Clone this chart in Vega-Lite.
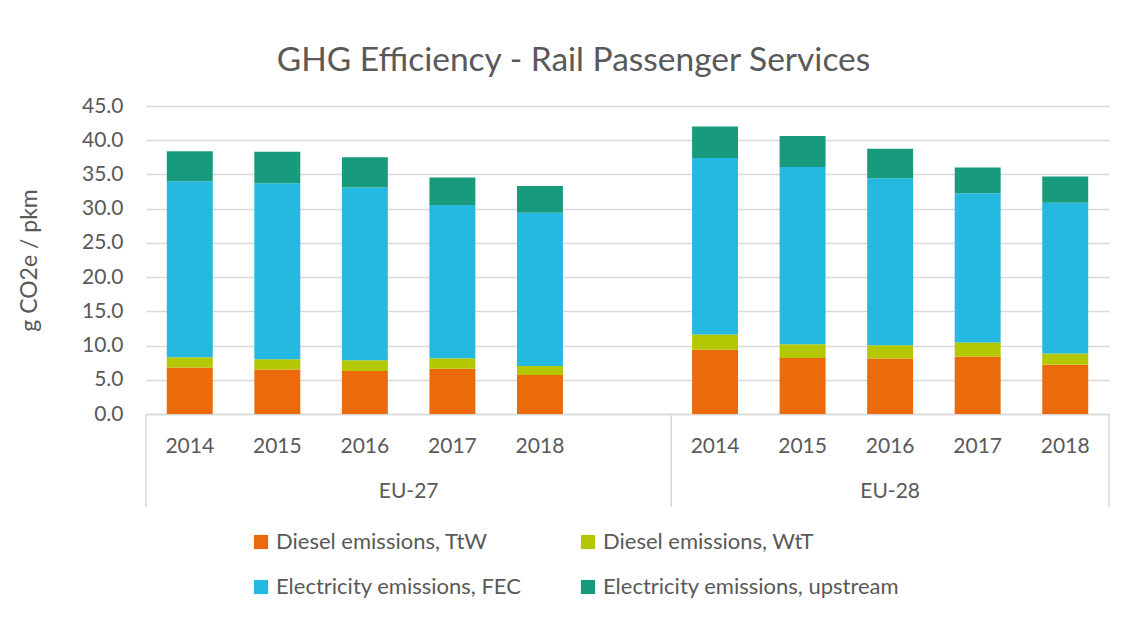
{
  "$schema": "https://vega.github.io/schema/vega-lite/v6.json",
  "width": 963,
  "height": 308,
  "autosize": {"type": "none"},
  "padding": {"left": 146, "top": 106, "right": 22, "bottom": 203},
  "background": "white",
  "config": {
    "font": "Lato",
    "view": {"stroke": null},
    "axis": {"labelColor": "#595959", "titleColor": "#595959", "labelFont": "Lato", "titleFont": "Lato"}
  },
  "title": {
    "text": "GHG Efficiency - Rail Passenger Services",
    "font": "Lato",
    "fontSize": 33.5,
    "fontWeight": "normal",
    "color": "#595959",
    "anchor": "middle",
    "dx": -54,
    "offset": 17
  },
  "datasets": {
    "bars": [
      {"region": "EU-27", "year": "2014", "slot": "EU-27|2014", "series": "Diesel emissions, TtW", "value": 6.8},
      {"region": "EU-27", "year": "2014", "slot": "EU-27|2014", "series": "Diesel emissions, WtT", "value": 1.5},
      {"region": "EU-27", "year": "2014", "slot": "EU-27|2014", "series": "Electricity emissions, FEC", "value": 25.7},
      {"region": "EU-27", "year": "2014", "slot": "EU-27|2014", "series": "Electricity emissions, upstream", "value": 4.4},
      {"region": "EU-27", "year": "2015", "slot": "EU-27|2015", "series": "Diesel emissions, TtW", "value": 6.5},
      {"region": "EU-27", "year": "2015", "slot": "EU-27|2015", "series": "Diesel emissions, WtT", "value": 1.5},
      {"region": "EU-27", "year": "2015", "slot": "EU-27|2015", "series": "Electricity emissions, FEC", "value": 25.7},
      {"region": "EU-27", "year": "2015", "slot": "EU-27|2015", "series": "Electricity emissions, upstream", "value": 4.6},
      {"region": "EU-27", "year": "2016", "slot": "EU-27|2016", "series": "Diesel emissions, TtW", "value": 6.3},
      {"region": "EU-27", "year": "2016", "slot": "EU-27|2016", "series": "Diesel emissions, WtT", "value": 1.55},
      {"region": "EU-27", "year": "2016", "slot": "EU-27|2016", "series": "Electricity emissions, FEC", "value": 25.25},
      {"region": "EU-27", "year": "2016", "slot": "EU-27|2016", "series": "Electricity emissions, upstream", "value": 4.4},
      {"region": "EU-27", "year": "2017", "slot": "EU-27|2017", "series": "Diesel emissions, TtW", "value": 6.6},
      {"region": "EU-27", "year": "2017", "slot": "EU-27|2017", "series": "Diesel emissions, WtT", "value": 1.55},
      {"region": "EU-27", "year": "2017", "slot": "EU-27|2017", "series": "Electricity emissions, FEC", "value": 22.4},
      {"region": "EU-27", "year": "2017", "slot": "EU-27|2017", "series": "Electricity emissions, upstream", "value": 4.0},
      {"region": "EU-27", "year": "2018", "slot": "EU-27|2018", "series": "Diesel emissions, TtW", "value": 5.7},
      {"region": "EU-27", "year": "2018", "slot": "EU-27|2018", "series": "Diesel emissions, WtT", "value": 1.3},
      {"region": "EU-27", "year": "2018", "slot": "EU-27|2018", "series": "Electricity emissions, FEC", "value": 22.4},
      {"region": "EU-27", "year": "2018", "slot": "EU-27|2018", "series": "Electricity emissions, upstream", "value": 3.9},
      {"region": "EU-28", "year": "2014", "slot": "EU-28|2014", "series": "Diesel emissions, TtW", "value": 9.4},
      {"region": "EU-28", "year": "2014", "slot": "EU-28|2014", "series": "Diesel emissions, WtT", "value": 2.2},
      {"region": "EU-28", "year": "2014", "slot": "EU-28|2014", "series": "Electricity emissions, FEC", "value": 25.8},
      {"region": "EU-28", "year": "2014", "slot": "EU-28|2014", "series": "Electricity emissions, upstream", "value": 4.6},
      {"region": "EU-28", "year": "2015", "slot": "EU-28|2015", "series": "Diesel emissions, TtW", "value": 8.2},
      {"region": "EU-28", "year": "2015", "slot": "EU-28|2015", "series": "Diesel emissions, WtT", "value": 2.0},
      {"region": "EU-28", "year": "2015", "slot": "EU-28|2015", "series": "Electricity emissions, FEC", "value": 25.9},
      {"region": "EU-28", "year": "2015", "slot": "EU-28|2015", "series": "Electricity emissions, upstream", "value": 4.5},
      {"region": "EU-28", "year": "2016", "slot": "EU-28|2016", "series": "Diesel emissions, TtW", "value": 8.1},
      {"region": "EU-28", "year": "2016", "slot": "EU-28|2016", "series": "Diesel emissions, WtT", "value": 1.95},
      {"region": "EU-28", "year": "2016", "slot": "EU-28|2016", "series": "Electricity emissions, FEC", "value": 24.4},
      {"region": "EU-28", "year": "2016", "slot": "EU-28|2016", "series": "Electricity emissions, upstream", "value": 4.3},
      {"region": "EU-28", "year": "2017", "slot": "EU-28|2017", "series": "Diesel emissions, TtW", "value": 8.4},
      {"region": "EU-28", "year": "2017", "slot": "EU-28|2017", "series": "Diesel emissions, WtT", "value": 2.05},
      {"region": "EU-28", "year": "2017", "slot": "EU-28|2017", "series": "Electricity emissions, FEC", "value": 21.8},
      {"region": "EU-28", "year": "2017", "slot": "EU-28|2017", "series": "Electricity emissions, upstream", "value": 3.75},
      {"region": "EU-28", "year": "2018", "slot": "EU-28|2018", "series": "Diesel emissions, TtW", "value": 7.2},
      {"region": "EU-28", "year": "2018", "slot": "EU-28|2018", "series": "Diesel emissions, WtT", "value": 1.65},
      {"region": "EU-28", "year": "2018", "slot": "EU-28|2018", "series": "Electricity emissions, FEC", "value": 22.0},
      {"region": "EU-28", "year": "2018", "slot": "EU-28|2018", "series": "Electricity emissions, upstream", "value": 3.85}
    ],
    "groupsLeft": [{"region": "EU-27", "slot": "EU-27|2017"}],
    "groupsCenter": [{"region": "EU-28", "slot": "EU-28|2016"}],
    "sepStart": [{"slot": "EU-27|2014"}, {"slot": "EU-28|2014"}],
    "sepEnd": [{"slot": "EU-28|2018"}]
  },
  "encoding": {
    "x": {
      "field": "slot",
      "type": "nominal",
      "scale": {
        "domain": ["EU-27|2014", "EU-27|2015", "EU-27|2016", "EU-27|2017", "EU-27|2018", "EU-27|", "EU-28|2014", "EU-28|2015", "EU-28|2016", "EU-28|2017", "EU-28|2018"],
        "paddingInner": 0,
        "paddingOuter": 0
      }
    }
  },
  "layer": [
    {
      "data": {"name": "bars"},
      "mark": {"type": "bar", "width": {"band": 0.525}},
      "encoding": {
        "x": {
          "field": "slot",
          "type": "nominal",
          "axis": {
            "title": null,
            "labelExpr": "split(datum.label, '|')[1]",
            "labelAngle": 0,
            "labelFontSize": 21,
            "labelPadding": 21,
            "ticks": false,
            "domainColor": "#D9D9D9",
            "domainWidth": 1.5
          }
        },
        "y": {
          "field": "value",
          "type": "quantitative",
          "aggregate": "sum",
          "stack": "zero",
          "scale": {"domain": [0, 45], "nice": false, "zero": true},
          "axis": {
            "title": "g CO2e / pkm",
            "titleFontSize": 23,
            "titleFontWeight": "normal",
            "titlePadding": 40,
            "values": [0, 5, 10, 15, 20, 25, 30, 35, 40, 45],
            "tickCount": 10,
            "format": ".1f",
            "labelFontSize": 21,
            "labelPadding": 23,
            "labelOverlap": false,
            "ticks": false,
            "domain": false,
            "gridColor": "#D9D9D9",
            "gridWidth": 1.5
          }
        },
        "order": {"field": "series", "sort": "ascending"},
        "color": {
          "field": "series",
          "type": "nominal",
          "scale": {
            "domain": ["Diesel emissions, TtW", "Diesel emissions, WtT", "Electricity emissions, FEC", "Electricity emissions, upstream"],
            "range": ["#EB6A0B", "#B3C800", "#25B9E1", "#189B7C"]
          },
          "legend": {
            "title": null,
            "orient": "none",
            "direction": "horizontal",
            "legendX": 104,
            "legendY": 425,
            "columns": 2,
            "columnPadding": 55,
            "rowPadding": 23,
            "symbolType": "square",
            "symbolSize": 200,
            "symbolStrokeWidth": 0,
            "labelFontSize": 22,
            "labelColor": "#595959",
            "labelFont": "Lato",
            "labelOffset": 4,
            "labelLimit": 400
          }
        }
      }
    },
    {
      "data": {"name": "groupsLeft"},
      "mark": {"type": "text", "fontSize": 21, "color": "#595959", "align": "center", "baseline": "middle"},
      "encoding": {
        "x": {"field": "slot", "type": "nominal", "bandPosition": 0},
        "y": {"datum": -11.4, "type": "quantitative"},
        "text": {"field": "region"}
      }
    },
    {
      "data": {"name": "groupsCenter"},
      "mark": {"type": "text", "fontSize": 21, "color": "#595959", "align": "center", "baseline": "middle"},
      "encoding": {
        "x": {"field": "slot", "type": "nominal", "bandPosition": 0.5},
        "y": {"datum": -11.4, "type": "quantitative"},
        "text": {"field": "region"}
      }
    },
    {
      "data": {"name": "sepStart"},
      "mark": {"type": "rule", "color": "#D9D9D9", "strokeWidth": 1.5},
      "encoding": {
        "x": {"field": "slot", "type": "nominal", "bandPosition": 0},
        "y": {"datum": 0, "type": "quantitative"},
        "y2": {"datum": -13.6}
      }
    },
    {
      "data": {"name": "sepEnd"},
      "mark": {"type": "rule", "color": "#D9D9D9", "strokeWidth": 1.5},
      "encoding": {
        "x": {"field": "slot", "type": "nominal", "bandPosition": 1},
        "y": {"datum": 0, "type": "quantitative"},
        "y2": {"datum": -13.6}
      }
    }
  ],
  "resolve": {"axis": {"y": "shared"}}
}
